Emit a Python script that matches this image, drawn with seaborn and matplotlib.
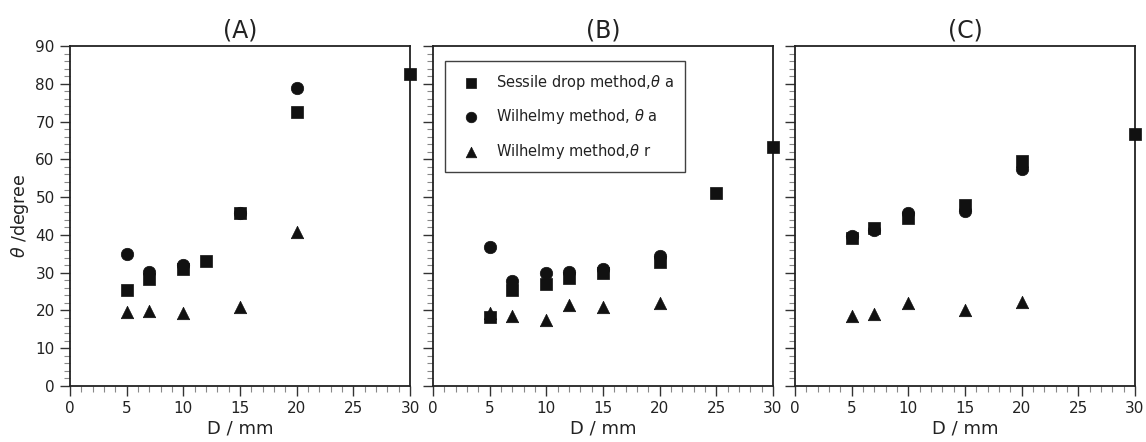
import matplotlib
matplotlib.use("Agg")
import matplotlib.pyplot as plt
import seaborn as sns
import pandas as pd
from matplotlib.ticker import MultipleLocator

# Contact angle vs. diameter D for three samples
panel_titles = ["(A)", "(B)", "(C)"]

# Panel A
a_sessile_x = [5, 7, 10, 12, 15, 20, 30]
a_sessile_y = [25.3, 28.3, 30.9, 33.0, 45.7, 72.5, 82.6]
a_wil_adv_x = [5, 7, 10, 15, 20]
a_wil_adv_y = [35.0, 30.3, 31.9, 45.7, 79.0]
a_wil_rec_x = [5, 7, 10, 15, 20]
a_wil_rec_y = [19.5, 19.8, 19.2, 20.8, 40.8]

# Panel B
b_sessile_x = [5, 7, 10, 12, 15, 20, 25, 30]
b_sessile_y = [18.2, 25.4, 26.9, 28.5, 29.8, 32.7, 51.2, 63.2]
b_wil_adv_x = [5, 7, 10, 12, 15, 20]
b_wil_adv_y = [36.9, 27.8, 30.0, 30.2, 31.1, 34.4]
b_wil_rec_x = [5, 7, 10, 12, 15, 20]
b_wil_rec_y = [19.4, 18.5, 17.5, 21.4, 20.8, 22.0]

# Panel C
c_sessile_x = [5, 7, 10, 15, 20, 30]
c_sessile_y = [39.1, 41.9, 44.6, 47.9, 59.5, 66.7]
c_wil_adv_x = [5, 7, 10, 15, 20]
c_wil_adv_y = [39.8, 41.3, 45.9, 46.4, 57.4]
c_wil_rec_x = [5, 7, 10, 15, 20]
c_wil_rec_y = [18.4, 19.0, 22.1, 20.1, 22.2]

series_labels = ["Sessile drop method,$\\theta$ a",
                 "Wilhelmy method, $\\theta$ a",
                 "Wilhelmy method,$\\theta$ r"]
series_markers = ["s", "o", "^"]
series_sizes = [66, 80, 80]

panels = [
    [(a_sessile_x, a_sessile_y), (a_wil_adv_x, a_wil_adv_y), (a_wil_rec_x, a_wil_rec_y)],
    [(b_sessile_x, b_sessile_y), (b_wil_adv_x, b_wil_adv_y), (b_wil_rec_x, b_wil_rec_y)],
    [(c_sessile_x, c_sessile_y), (c_wil_adv_x, c_wil_adv_y), (c_wil_rec_x, c_wil_rec_y)],
]

sns.set_style("ticks")
plt.rcParams["font.family"] = ["DejaVu Sans"]
plt.rcParams["mathtext.fontset"] = "dejavusans"
plt.rcParams["text.color"] = "#222222"
plt.rcParams["axes.labelcolor"] = "#222222"
plt.rcParams["xtick.labelcolor"] = "#222222"
plt.rcParams["ytick.labelcolor"] = "#222222"

W, H = 1146, 442
fig = plt.figure(figsize=(W / 100, H / 100), dpi=100)

lefts = [70, 433, 795]
ax_w, ax_h = 340, 340
bottom = 442 - 386

axes = []
for i, left in enumerate(lefts):
    ax = fig.add_axes([left / W, bottom / H, ax_w / W, ax_h / H])
    axes.append(ax)
    for j, (xs, ys) in enumerate(panels[i]):
        df = pd.DataFrame({"D": xs, "theta": ys})
        sns.scatterplot(data=df, x="D", y="theta", ax=ax, marker=series_markers[j],
                        s=series_sizes[j], color="#111111", edgecolor="#111111",
                        linewidth=0.5, clip_on=False, zorder=3,
                        label=series_labels[j] if i == 1 else None, legend=False)
    ax.set_xlim(0, 30)
    ax.set_ylim(0, 90)
    ax.xaxis.set_major_locator(MultipleLocator(5))
    ax.xaxis.set_minor_locator(MultipleLocator(1))
    ax.yaxis.set_major_locator(MultipleLocator(10))
    ax.yaxis.set_minor_locator(MultipleLocator(2))
    ax.tick_params(which="major", direction="out", length=7, width=1.0,
                   color="#333333", labelsize=11, pad=4)
    ax.tick_params(which="minor", direction="out", length=4, width=0.8,
                   color="#888888")
    for sp in ax.spines.values():
        sp.set_visible(True)
        sp.set_linewidth(1.3)
        sp.set_color("#222222")
    ax.set_xlabel("D / mm", fontsize=13, labelpad=2)
    if i == 0:
        ax.set_ylabel("$\\theta$ /degree", fontsize=12.5, labelpad=3)
    else:
        ax.set_ylabel("")
        ax.tick_params(axis="y", labelleft=False)
    ax.set_title(panel_titles[i], fontsize=17, pad=6)

leg = axes[1].legend(loc="upper left", bbox_to_anchor=(0.035, 0.955), fontsize=10.5,
                     frameon=True, fancybox=False, edgecolor="#111111",
                     borderpad=0.8, labelspacing=1.05, handletextpad=0.7,
                     borderaxespad=0, markerscale=0.85)
leg.get_frame().set_linewidth(1.0)

fig.savefig("out.png", dpi=100)
